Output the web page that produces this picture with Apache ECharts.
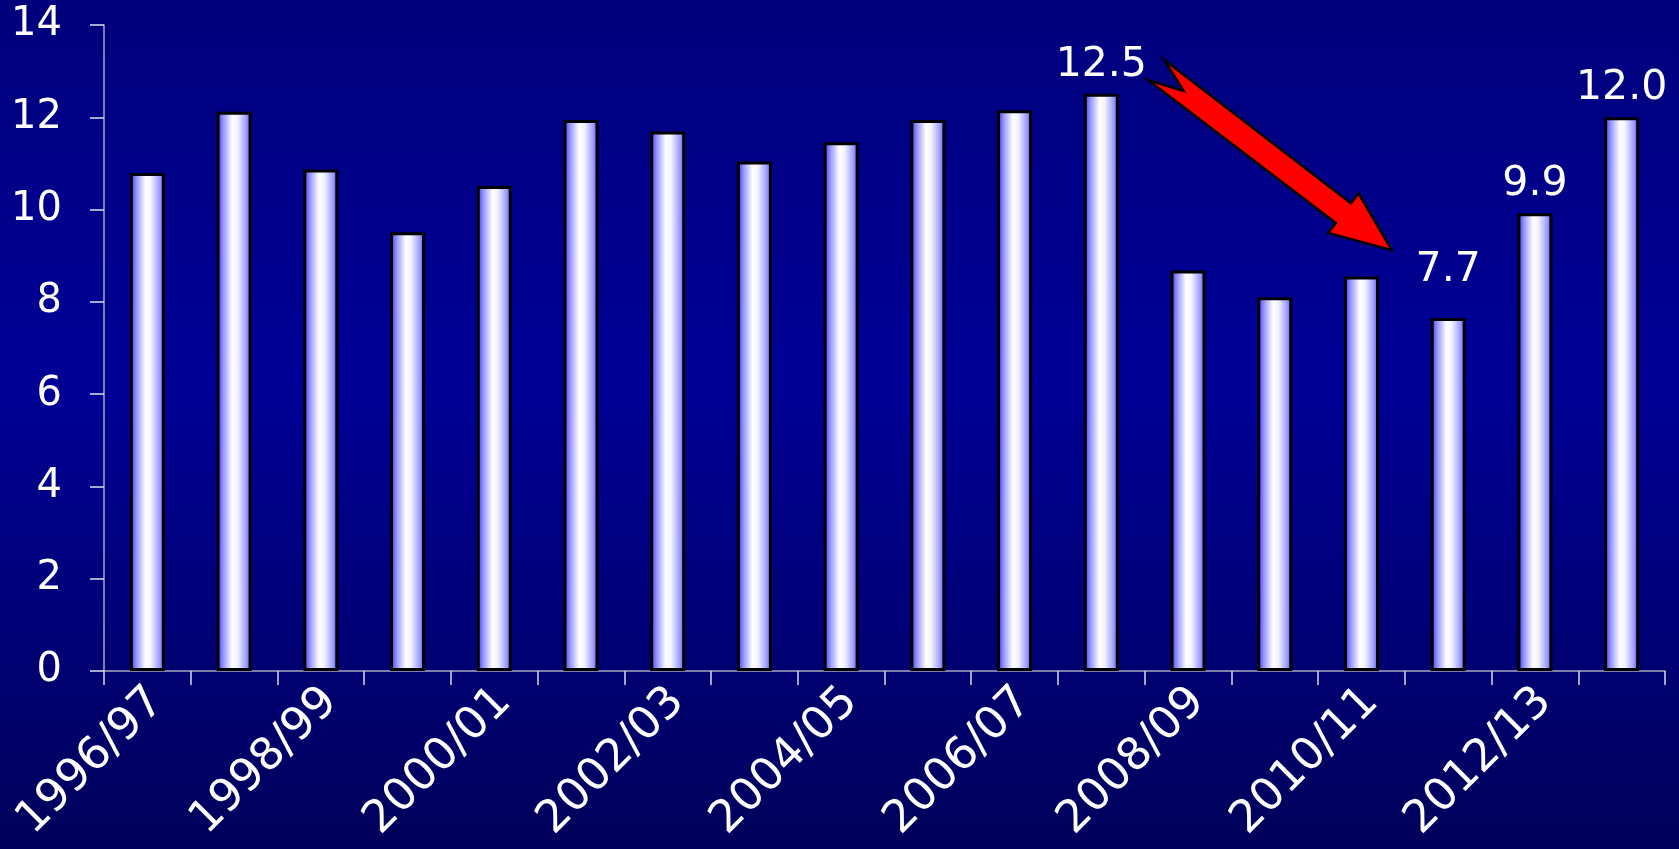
<!DOCTYPE html>
<html><head><meta charset="utf-8">
<style>html,body{margin:0;padding:0;background:#000080;}#c{width:1679px;height:849px;}</style>
<script src="https://cdn.jsdelivr.net/npm/echarts@6/dist/echarts.min.js"></script>
</head><body><div id="c"></div>
<script>
const categories = ['1996/97','1997/98','1998/99','1999/00','2000/01','2001/02','2002/03','2003/04','2004/05','2005/06','2006/07','2007/08','2008/09','2009/10','2010/11','2011/12','2012/13','2013/14'];
const values = [10.79, 12.12, 10.87, 9.51, 10.51, 11.94, 11.69, 11.04, 11.46, 11.94, 12.15, 12.51, 8.68, 8.1, 8.55, 7.65, 9.92, 12.0];
const valueLabels = ['', '', '', '', '', '', '', '', '', '', '', '12.5', '', '', '', '7.7', '9.9', '12.0'];
const yMin = 0, yMax = 14, yStep = 2;
// arrow annotation: [category position, value]
const arrowTail = [11.63, 13.03];
const arrowHead = [14.35, 9.12];

const chart = echarts.init(document.getElementById('c'), null, {renderer: 'canvas'});
const FONT = 'DejaVu Sans';

const barGradient = new echarts.graphic.LinearGradient(0, 0, 1, 0, [
  {offset: 0, color: '#3030f4'},
  {offset: 0.2, color: '#9a9aff'},
  {offset: 0.45, color: '#ffffff'},
  {offset: 0.6, color: '#f2f2ff'},
  {offset: 0.85, color: '#9c9cff'},
  {offset: 1, color: '#4a4aff'}
]);

const data = values.map((v, i) => ({
  value: v,
  label: {
    show: valueLabels[i] !== '',
    formatter: valueLabels[i],
    distance: i === 15 ? 27 : 8
  }
}));

chart.setOption({
  backgroundColor: new echarts.graphic.LinearGradient(0, 0, 0, 1, [
    {offset: 0, color: '#00007c'},
    {offset: 0.45, color: '#000096'},
    {offset: 1, color: '#00005a'}
  ]),
  animation: false,
  grid: {left: 104, right: 14, top: 25, bottom: 178, containLabel: false, outerBoundsMode: 'none'},
  xAxis: {
    type: 'category',
    data: categories,
    boundaryGap: true,
    axisLine: {show: true, lineStyle: {color: '#a8a8c0', width: 1.5}},
    axisTick: {show: true, interval: 0, length: 14, lineStyle: {color: '#d8d8e8', width: 1.5}},
    axisLabel: {
      interval: 1, rotate: 45, margin: 34, padding: [0, -14, 0, 0],
      color: '#ffffff', fontFamily: FONT, fontSize: 45
    }
  },
  yAxis: {
    type: 'value', min: yMin, max: yMax, interval: yStep,
    axisLine: {show: true, lineStyle: {color: '#a8a8c0', width: 1.5}},
    axisTick: {show: true, length: 14, lineStyle: {color: '#e0e0f0', width: 1.5}},
    splitLine: {show: false},
    axisLabel: {margin: 42, color: '#ffffff', fontFamily: FONT, fontSize: 40}
  },
  series: [{
    type: 'bar',
    data: data,
    barWidth: 35,
    itemStyle: {color: barGradient, borderColor: '#000000', borderWidth: 3},
    label: {
      position: 'top', color: '#ffffff', fontFamily: FONT, fontSize: 41
    }
  }]
});

function toPx(pt) {
  const i = Math.floor(pt[0]);
  const f = pt[0] - i;
  const a = chart.convertToPixel({gridIndex: 0}, [i, pt[1]]);
  const b = chart.convertToPixel({gridIndex: 0}, [i + 1, pt[1]]);
  return [a[0] + f * (b[0] - a[0]), a[1]];
}
const t = toPx(arrowTail), h = toPx(arrowHead);
const dx = h[0] - t[0], dy = h[1] - t[1];
const L = Math.hypot(dx, dy);
const u = [dx / L, dy / L];
const w = [u[1], -u[0]];
const headBack = L - 61;
function P(along, side) { return [t[0] + u[0] * along + w[0] * side, t[1] + u[1] * along + w[1] * side]; }
const pts = [
  P(0, 13), P(headBack, 12.5), P(headBack, 25), [h[0], h[1]],
  P(headBack, -25), P(headBack, -12.5), P(0, -13), P(35, 0)
];
chart.setOption({
  graphic: [{
    type: 'polygon', z: 100,
    shape: {points: pts},
    style: {fill: '#ff0000', stroke: '#000000', lineWidth: 2.5, lineJoin: 'miter'}
  }]
});
</script>
</body></html>
